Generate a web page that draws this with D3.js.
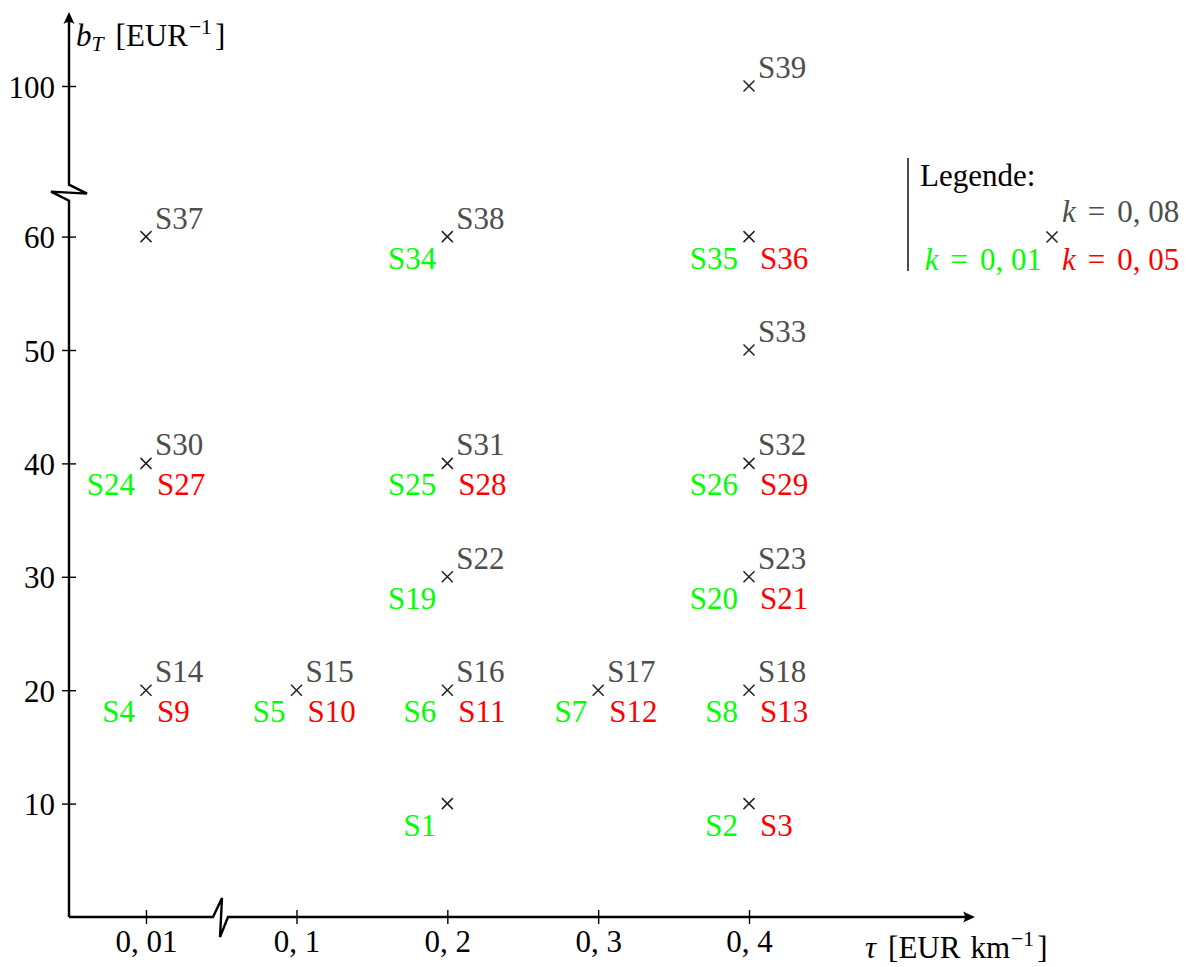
<!DOCTYPE html>
<html>
<head>
<meta charset="utf-8">
<script src="https://cdn.jsdelivr.net/npm/d3@7"></script>
<style>
  html, body { margin: 0; padding: 0; background: #fff; }
  svg { display: block; }
</style>
</head>
<body>
<svg id="chart" width="1191" height="967" font-family="Liberation Serif"></svg>
<script>
// Scenario grid: toll rate tau [EUR/km] vs. b_T [1/EUR], grouped by k
const tauTicks = [0.01, 0.1, 0.2, 0.3, 0.4];
const tauTickLabels = ["0, 01", "0, 1", "0, 2", "0, 3", "0, 4"];
const bTTicks = [10, 20, 30, 40, 50, 60, 100];
const bTTickLabels = ["10", "20", "30", "40", "50", "60", "100"];

// [name, tau, bT]
const scenariosK008 = [
  ["S14", 0.01, 20], ["S15", 0.1, 20], ["S16", 0.2, 20], ["S17", 0.3, 20], ["S18", 0.4, 20],
  ["S22", 0.2, 30], ["S23", 0.4, 30],
  ["S30", 0.01, 40], ["S31", 0.2, 40], ["S32", 0.4, 40],
  ["S33", 0.4, 50],
  ["S37", 0.01, 60], ["S38", 0.2, 60],
  ["S39", 0.4, 100]
];
const scenariosK005 = [
  ["S3", 0.4, 10],
  ["S9", 0.01, 20], ["S10", 0.1, 20], ["S11", 0.2, 20], ["S12", 0.3, 20], ["S13", 0.4, 20],
  ["S21", 0.4, 30],
  ["S27", 0.01, 40], ["S28", 0.2, 40], ["S29", 0.4, 40],
  ["S36", 0.4, 60]
];
const scenariosK001 = [
  ["S1", 0.2, 10], ["S2", 0.4, 10],
  ["S4", 0.01, 20], ["S5", 0.1, 20], ["S6", 0.2, 20], ["S7", 0.3, 20], ["S8", 0.4, 20],
  ["S19", 0.2, 30], ["S20", 0.4, 30],
  ["S24", 0.01, 40], ["S25", 0.2, 40], ["S26", 0.4, 40],
  ["S34", 0.2, 60], ["S35", 0.4, 60]
];
const legendEntries = [
  { k: "0, 08", color: "#4d4d4d", pos: "above" },
  { k: "0, 01", color: "#00ff00", pos: "left" },
  { k: "0, 05", color: "#ff0000", pos: "right" }
];

const FONT = 31;
const FAMILY = "Liberation Serif";
const svg = d3.select("#chart");

// Broken axes: 0,01 sits before the x-break, 100 sits above the y-break
const x = d3.scaleLinear().domain([0.01, 0.1, 0.4]).range([146, 296.5, 749]);
const y = d3.scaleLinear().domain([0, 60, 100]).range([917, 236.6, 86]);

const x0 = 69, y0 = 917;
const xEnd = 975, yEnd = 12;
const axisColor = "#000";

const axes = svg.append("g");
// y axis with break
const yBreak = y(73);
axes.append("path")
  .attr("d", `M${x0},${y0}V${yBreak + 13}L${x0 - 18},${yBreak + 4}L${x0 + 18},${yBreak + 6}L${x0},${yBreak - 3}V${yEnd + 8}`)
  .attr("fill", "none").attr("stroke", axisColor).attr("stroke-width", 2.4).attr("stroke-linejoin", "miter");
// x axis with break
const xBreak = 221;
axes.append("path")
  .attr("d", `M${x0},${y0}H${xBreak - 8}L${xBreak + 1},${y0 - 19}L${xBreak - 1},${y0 + 20}L${xBreak + 7},${y0}H${xEnd - 8}`)
  .attr("fill", "none").attr("stroke", axisColor).attr("stroke-width", 2.4).attr("stroke-linejoin", "miter");

// arrow heads
function arrowHead(tx, ty, angle) {
  axes.append("path")
    .attr("d", "M0,0 L-12,-5.5 Q-8,0 -12,5.5 Z")
    .attr("transform", `translate(${tx},${ty}) rotate(${angle})`)
    .attr("fill", axisColor);
}
arrowHead(xEnd, y0, 0);
arrowHead(x0, yEnd, -90);

// ticks via d3 axes, crossing the axis line
const xAxis = d3.axisBottom(x).tickValues(tauTicks)
  .tickFormat((d, i) => tauTickLabels[i]).tickSizeInner(7).tickSizeOuter(0).tickPadding(0);
const gx = svg.append("g").attr("transform", `translate(0,${y0})`).call(xAxis)
  .attr("font-family", FAMILY).attr("font-size", FONT);
gx.select(".domain").remove();
gx.selectAll(".tick line").attr("y1", -7).attr("y2", 7).attr("stroke", axisColor).attr("stroke-width", 1.4);
gx.selectAll(".tick text").attr("y", 35).attr("dy", null).attr("fill", "#000");

const yAxis = d3.axisLeft(y).tickValues(bTTicks)
  .tickFormat((d, i) => bTTickLabels[i]).tickSizeInner(7).tickSizeOuter(0).tickPadding(0);
const gy = svg.append("g").attr("transform", `translate(${x0},0)`).call(yAxis)
  .attr("font-family", FAMILY).attr("font-size", FONT);
gy.select(".domain").remove();
gy.selectAll(".tick line").attr("x1", -7).attr("x2", 7).attr("stroke", axisColor).attr("stroke-width", 1.4);
gy.selectAll(".tick text").attr("x", -14).attr("dy", 11).attr("fill", "#000");

// axis titles
const yTitle = svg.append("text").attr("x", 76).attr("y", 46).attr("font-size", FONT).attr("fill", "#000");
yTitle.append("tspan").attr("font-style", "italic").text("b");
yTitle.append("tspan").attr("font-style", "italic").attr("font-size", FONT * 0.7).attr("dy", 5).text("T");
yTitle.append("tspan").attr("dy", -5).attr("dx", 12).text("[EUR");
yTitle.append("tspan").attr("font-size", FONT * 0.7).attr("dy", -12).attr("dx", 1).text("\u22121");
yTitle.append("tspan").attr("dy", 12).attr("dx", 3).text("]");

const xTitle = svg.append("text").attr("x", 865).attr("y", 958).attr("font-size", FONT).attr("fill", "#000");
xTitle.append("tspan").attr("font-style", "italic").text("\u03c4");
xTitle.append("tspan").attr("dx", 12).text("[EUR");
xTitle.append("tspan").attr("dx", 10).text("km");
xTitle.append("tspan").attr("font-size", FONT * 0.7).attr("dy", -12).attr("dx", 1).text("\u22121");
xTitle.append("tspan").attr("dy", 12).attr("dx", 3).text("]");

// markers: one cross per distinct (tau, bT)
const allScen = scenariosK008.concat(scenariosK005, scenariosK001);
const points = Array.from(new Map(allScen.map(d => [d[1] + "|" + d[2], [d[1], d[2]]])).values());
function cross(g, cx, cy) {
  const s = 5.5;
  g.append("path")
    .attr("d", `M${cx - s},${cy - s}L${cx + s},${cy + s}M${cx - s},${cy + s}L${cx + s},${cy - s}`)
    .attr("stroke", "#222").attr("stroke-width", 1.5).attr("fill", "none");
}
const marks = svg.append("g");
points.forEach(p => cross(marks, x(p[0]), y(p[1])));

// scenario labels around each cross
const labels = svg.append("g").attr("font-size", FONT).attr("font-family", FAMILY);
labels.selectAll("text.k008").data(scenariosK008).join("text")
  .attr("x", d => x(d[1]) + 9).attr("y", d => y(d[2]) - 8)
  .attr("fill", "#4d4d4d").text(d => d[0]);
labels.selectAll("text.k005").data(scenariosK005).join("text")
  .attr("x", d => x(d[1]) + 11).attr("y", d => y(d[2]) + 32)
  .attr("fill", "#ff0000").text(d => d[0]);
labels.selectAll("text.k001").data(scenariosK001).join("text")
  .attr("x", d => x(d[1]) - 11).attr("y", d => y(d[2]) + 32)
  .attr("text-anchor", "end").attr("fill", "#00ff00").text(d => d[0]);

// legend
const lg = svg.append("g").attr("font-size", FONT).attr("font-family", FAMILY);
lg.append("line").attr("x1", 908).attr("x2", 908).attr("y1", 158).attr("y2", 271)
  .attr("stroke", "#000").attr("stroke-width", 1.4);
lg.append("text").attr("x", 920).attr("y", 186).attr("fill", "#000").text("Legende:");
const lx = 1052, ly = 237;
cross(lg, lx, ly);
legendEntries.forEach(e => {
  const t = lg.append("text").attr("fill", e.color);
  if (e.pos === "above") t.attr("x", lx + 10).attr("y", ly - 15);
  if (e.pos === "right") t.attr("x", lx + 10).attr("y", ly + 33);
  if (e.pos === "left") t.attr("x", lx - 10).attr("y", ly + 33).attr("text-anchor", "end");
  t.append("tspan").attr("font-style", "italic").text("k");
  t.append("tspan").attr("dx", 12).text("=");
  t.append("tspan").attr("dx", 12).text(e.k);
});
</script>
</body>
</html>
